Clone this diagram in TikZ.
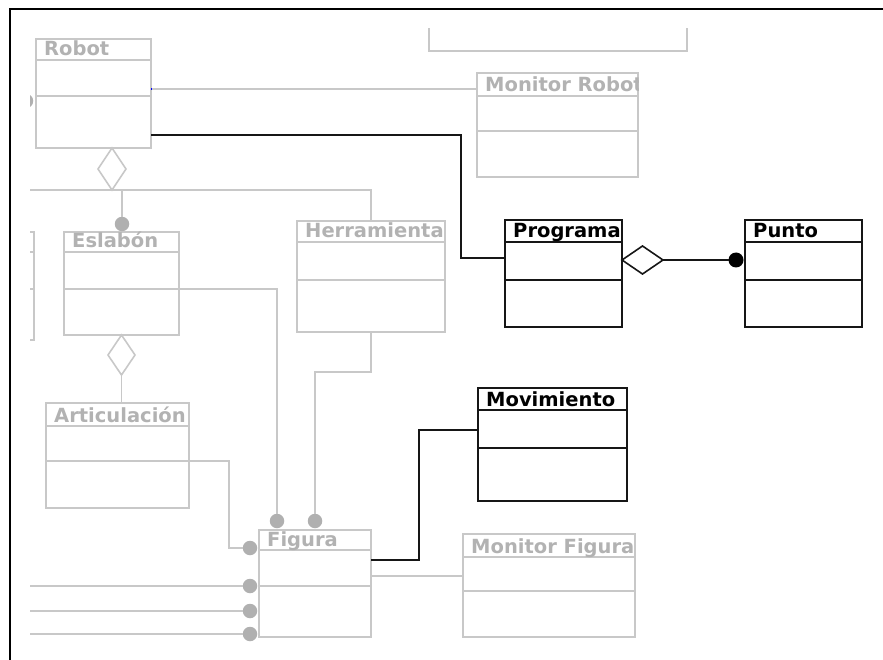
\documentclass[tikz,border=0pt]{standalone}
\usepackage{fontspec}
\setmainfont{DejaVu Sans}
\usetikzlibrary{shapes.geometric}

\definecolor{umlgray}{RGB}{200,200,200}
\definecolor{umltext}{RGB}{178,178,178}
\definecolor{umldot}{RGB}{176,176,176}
\definecolor{umlink}{RGB}{22,22,22}

\newcommand\classfont{\fontsize{19.5}{21}\selectfont\bfseries}

\tikzset{
  gbox/.style={draw=umlgray, line width=1.8pt, inner sep=0pt, outer sep=0pt},
  gdiv/.style={draw=umlgray, line width=1.8pt},
  gtext/.style={text=umltext, font=\classfont, inner sep=0pt},
  kbox/.style={draw=umlink, line width=2.2pt, inner sep=0pt, outer sep=0pt},
  kdiv/.style={draw=umlink, line width=2.2pt},
  ktext/.style={text=black, font=\classfont, inner sep=0pt},
  gconn/.style={draw=umlgray, line width=1.8pt},
  kconn/.style={draw=umlink, line width=2.2pt},
  gdot/.style={circle, fill=umldot, inner sep=0pt, outer sep=0pt, minimum size=14.5pt},
  kdot/.style={circle, fill=black, inner sep=0pt, outer sep=0pt, minimum size=15pt},
  gdiamond/.style={diamond, draw=umlgray, line width=1.6pt, inner sep=0pt, outer sep=0pt},
  kdiamond/.style={diamond, draw=umlink, line width=1.6pt, inner sep=0pt, outer sep=0pt},
}

% UML class box: name, kind (g/k), left, top, right, bottom, divider 1, divider 2, title
\newcommand\umlclass[9]{%
  \node[#2box, anchor=north west, minimum width={#5pt-#3pt}, minimum height={#6pt-#4pt}] (#1) at (#3,#4) {};
  \draw[#2div] (#1.west |- 0,#7) -- (#1.east |- 0,#7);
  \draw[#2div] (#1.west |- 0,#8) -- (#1.east |- 0,#8);
  \begin{scope}
    \clip (#3,#4) rectangle (#5,#7);
    \node[#2text, anchor=base west] (#1-name) at (#3+8,#7-4) {#9};
  \end{scope}
}

\begin{document}
\begin{tikzpicture}[x=1pt, y=-1pt]
\useasboundingbox (0,0) rectangle (883,660);

\begin{scope}
\clip (30,29) rectangle (883,660);

% classes
\node[gbox, anchor=north west, minimum width=258pt, minimum height=100pt] (topclass) at (429,-49) {};
\umlclass{leftclass}{g}{-80}{232}{34}{340}{252}{289}{}
\umlclass{robot}{g}{36}{39}{151}{148}{60}{96}{Robot}
\umlclass{monrobot}{g}{477}{73}{638}{177}{96}{131}{Monitor Robot}
\umlclass{programa}{k}{505}{220}{622}{327}{242}{280}{Programa}
\umlclass{punto}{k}{745}{220}{862}{327}{242}{280}{Punto}
\umlclass{eslabon}{g}{64}{232}{179}{335}{252}{289}{Eslabón}
\umlclass{herr}{g}{297}{221}{445}{332}{242}{280}{Herramienta}
\umlclass{artic}{g}{46}{403}{189}{508}{426}{461}{Articulación}
\umlclass{figura}{g}{259}{530}{371}{637}{550}{586}{Figura}
\umlclass{monfig}{g}{463}{534}{635}{637}{557}{591}{Monitor Figura}
\umlclass{movim}{k}{478}{388}{627}{501}{410}{448}{Movimiento}

% Robot associations
\draw[gconn] (robot.east |- 0,89) -- (monrobot.west |- 0,89);
\fill[blue] (150.5,88.5) rectangle (152,90);
\draw[kconn] (robot.east |- 0,135) -| (461,258) -- (programa.west |- 0,258);
\node[gdot] (edgedot) at (26,101) {};

% Programa aggregates Punto
\node[kdiamond, minimum width=41pt, minimum height=28pt, anchor=west] (aggP) at (programa.east |- 0,260) {};
\node[kdot] (dotP) at (736,260) {};
\draw[kconn, line width=1.8pt] (aggP.east) -- (dotP);

% Robot aggregation bus
\node[gdiamond, minimum width=28pt, minimum height=42pt, anchor=north] (aggR) at (112,148) {};
\coordinate (busW) at (0,190);
\draw[gconn] (herr.north) |- (busW);
\node[gdot] (dotE) at (122,224) {};
\draw[gconn] (dotE.north |- 0,190) -- (dotE);

% Eslabon aggregates Articulacion
\node[gdiamond, minimum width=27pt, minimum height=40pt, anchor=north] (aggE) at (eslabon.south) {};
\draw[gconn] (aggE.south) -- (aggE.south |- artic.north);

% Figura ends
\node[gdot] (fTop1) at (277,521) {};
\node[gdot] (fTop2) at (315,521) {};
\node[gdot] (fL1) at (250,548) {};
\node[gdot] (fL2) at (250,586) {};
\node[gdot] (fL3) at (250,611) {};
\node[gdot] (fL4) at (250,634) {};

\draw[gconn] (eslabon.east |- 0,289) -| (fTop1);
\draw[gconn] (herr.south) -- (herr.south |- 0,372) -| (fTop2);
\draw[gconn] (artic.east |- 0,461) -| (229,548) -- (fL1);
\coordinate (in2) at (0,586);
\coordinate (in3) at (0,611);
\coordinate (in4) at (0,634);
\draw[gconn] (in2) -- (fL2);
\draw[gconn] (in3) -- (fL3);
\draw[gconn] (in4) -- (fL4);

\draw[gconn] (figura.east |- 0,576) -- (monfig.west |- 0,576);
\draw[kconn] (figura.east |- 0,560) -| (419,430) -- (movim.west |- 0,430);
\end{scope}

% frame
\draw[line width=2.2pt] (10,660) -- (10,9) -- (883,9);
\end{tikzpicture}
\end{document}
